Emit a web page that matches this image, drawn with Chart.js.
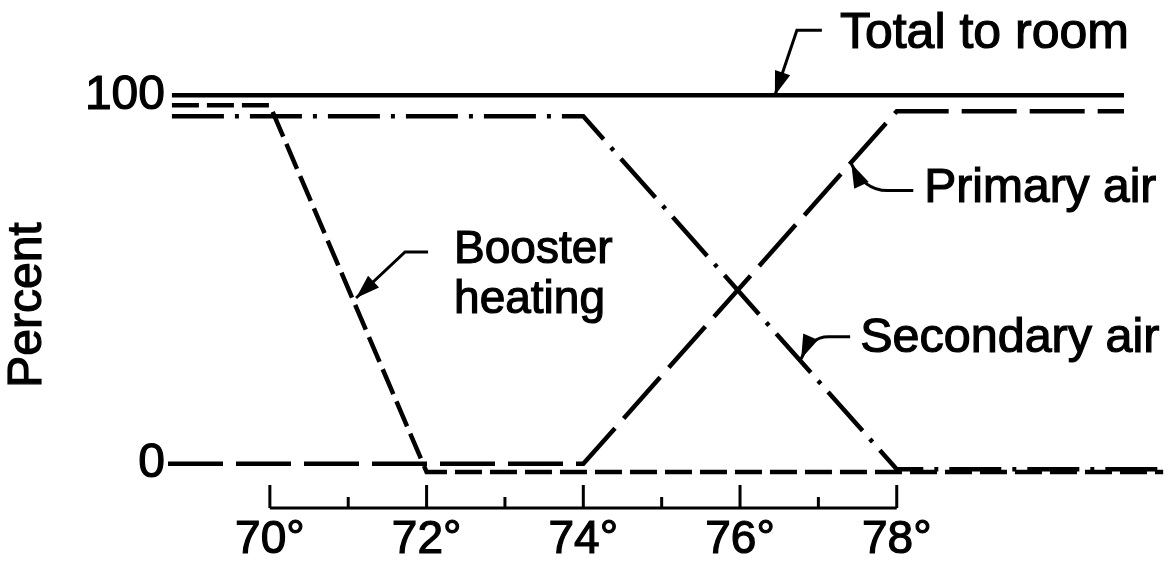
<!DOCTYPE html>
<html>
<head>
<meta charset="utf-8">
<script src="https://cdn.jsdelivr.net/npm/chart.js@4.4.1/dist/chart.umd.min.js"></script>
<style>
    body { margin: 0; background: #fff; }
    #contenedor { width: 1174px; height: 567px; }
</style>
</head>
<body>
<div id="contenedor"><canvas id="grafico"></canvas></div>
<script>
// temperatura de la sala (grados) y porcentaje de cada curva
var tempTotal = [68.75, 80.9];
var total = [100, 100];
var tempPrimario = [68.7, 74, 78, 80.9];
var primario = [0, 0, 95.7, 95.7];
var tempBooster = [68.75, 70, 72, 81.4];
var booster = [97.3, 97.3, -2.2, -2.2];
var tempSecundario = [68.75, 74, 78, 81.4];
var secundario = [94.3, 94.3, -1.5, -1.5];

var ticksGrados = [70, 72, 74, 76, 78];
var ticksMenores = [71, 73, 75, 77];
var ticksPorcentaje = [0, 100];

var fuente = '"Liberation Sans", Arial, sans-serif';

function puntos(xs, ys) {
    var lista = [];
    for (var i in xs) {
        lista.push({ x: xs[i], y: ys[i] });
    }
    return lista;
}

// flechas con texto: punta en unidades de datos, el resto en pixeles desde la punta
var anotaciones = [
    { texto: ['Total to room'], tam: 50, punta: [76.445, 100], codo: [22, -65], fin: [47, -65], curva: false, texto_dx: 65, texto_dy: [-61] },
    { texto: ['Primary air'], tam: 48, punta: [77.42, 81.5], codo: [36, 27], fin: [62, 27], curva: true, texto_dx: 73, texto_dy: [25] },
    { texto: ['Booster', 'heating'], tam: 46, punta: [71.1, 45], codo: [49, -46], fin: [72, -46], curva: false, texto_dx: 98, texto_dy: [-48, 2] },
    { texto: ['Secondary air'], tam: 48.5, punta: [76.78, 28.5], codo: [27, -22], fin: [49, -22], curva: true, texto_dx: 59, texto_dy: [-20] }
];

function textoGrueso(ctx, texto, x, y) {
    ctx.fillText(texto, x, y);
    ctx.strokeText(texto, x, y);
}

var ejeGrados = {
    id: 'ejeGrados',
    afterDatasetsDraw: function(chart) {
        var ctx = chart.ctx;
        var escalaX = chart.scales.x;
        var base = escalaX.top;
        ctx.save();
        ctx.strokeStyle = '#000';
        ctx.lineWidth = 3;
        ctx.beginPath();
        ctx.moveTo(escalaX.getPixelForValue(ticksGrados[0]), base);
        ctx.lineTo(escalaX.getPixelForValue(ticksGrados[ticksGrados.length - 1]), base);
        for (var i in ticksGrados) {
            var px = escalaX.getPixelForValue(ticksGrados[i]);
            ctx.moveTo(px, base);
            ctx.lineTo(px, base - 23);
        }
        for (var j in ticksMenores) {
            var pm = escalaX.getPixelForValue(ticksMenores[j]);
            ctx.moveTo(pm, base);
            ctx.lineTo(pm, base - 11);
        }
        ctx.stroke();

        // titulo del eje y
        ctx.fillStyle = '#000';
        ctx.lineWidth = 1.2;
        ctx.font = '48px ' + fuente;
        ctx.textAlign = 'center';
        ctx.textBaseline = 'middle';
        ctx.translate(28, (chart.chartArea.top + chart.chartArea.bottom) / 2 + 7);
        ctx.rotate(-Math.PI / 2);
        textoGrueso(ctx, 'Percent', 0, 0);
        ctx.restore();
    }
};

var flechas = {
    id: 'flechas',
    afterDatasetsDraw: function(chart) {
        var ctx = chart.ctx;
        var escalaX = chart.scales.x;
        var escalaY = chart.scales.y;
        ctx.save();
        ctx.strokeStyle = '#000';
        ctx.fillStyle = '#000';
        ctx.textAlign = 'left';
        ctx.textBaseline = 'middle';
        for (var i in anotaciones) {
            var a = anotaciones[i];
            var tx = escalaX.getPixelForValue(a.punta[0]);
            var ty = escalaY.getPixelForValue(a.punta[1]);
            var cx = tx + a.codo[0], cy = ty + a.codo[1];
            var fx = tx + a.fin[0], fy = ty + a.fin[1];
            var desdeX = cx, desdeY = cy;

            ctx.lineWidth = 3;
            ctx.beginPath();
            ctx.moveTo(fx, fy);
            ctx.lineTo(cx, cy);
            if (a.curva) {
                // curva suave hacia la punta
                var qx = tx + a.codo[0] * 0.35, qy = cy;
                ctx.quadraticCurveTo(qx, qy, tx, ty);
                desdeX = qx;
                desdeY = qy;
            } else {
                ctx.lineTo(tx, ty);
            }
            ctx.stroke();

            // punta de flecha
            var ang = Math.atan2(ty - desdeY, tx - desdeX);
            ctx.beginPath();
            ctx.moveTo(tx, ty);
            ctx.lineTo(tx - 24 * Math.cos(ang) + 8 * Math.sin(ang), ty - 24 * Math.sin(ang) - 8 * Math.cos(ang));
            ctx.lineTo(tx - 24 * Math.cos(ang) - 8 * Math.sin(ang), ty - 24 * Math.sin(ang) + 8 * Math.cos(ang));
            ctx.closePath();
            ctx.fill();

            ctx.lineWidth = 1.2;
            ctx.font = a.tam + 'px ' + fuente;
            for (var k in a.texto) {
                textoGrueso(ctx, a.texto[k], tx + a.texto_dx, ty + a.texto_dy[k]);
            }
        }
        ctx.restore();
    }
};

var chartdata = {
    datasets: [{
        label: 'Total to room',
        data: puntos(tempTotal, total),
        borderColor: '#000',
        borderWidth: 4.5
    }, {
        label: 'Primary air',
        data: puntos(tempPrimario, primario),
        borderColor: '#000',
        borderWidth: 4.5,
        borderDash: [55, 13]
    }, {
        label: 'Booster heating',
        data: puntos(tempBooster, booster),
        borderColor: '#000',
        borderWidth: 4.5,
        borderDash: [27, 8]
    }, {
        label: 'Secondary air',
        data: puntos(tempSecundario, secundario),
        borderColor: '#000',
        borderWidth: 4.5,
        borderDash: [52, 11, 4, 11]
    }]
};

var mostrar = document.getElementById('grafico');
var grafico = new Chart(mostrar, {
    type: 'scatter',
    data: chartdata,
    options: {
        responsive: true,
        maintainAspectRatio: false,
        animation: false,
        showLine: true,
        elements: {
            point: { radius: 0, hoverRadius: 0 },
            line: { tension: 0, borderCapStyle: 'butt', fill: false }
        },
        layout: {
            padding: { top: 88, right: 3, left: 0, bottom: 0 }
        },
        plugins: {
            legend: { display: false },
            tooltip: { enabled: false }
        },
        scales: {
            x: {
                type: 'linear',
                min: 68.7,
                max: 81.5,
                afterFit: function(scale) { scale.height = 59; },
                afterBuildTicks: function(scale) {
                    scale.ticks = ticksGrados.map(function(v) { return { value: v }; });
                },
                ticks: {
                    color: '#000',
                    padding: 5,
                    maxRotation: 0,
                    textStrokeColor: '#000',
                    textStrokeWidth: 1.2,
                    font: { family: fuente, size: 46 },
                    callback: function(value) { return value + '°'; }
                },
                grid: { display: false, drawTicks: false },
                border: { display: false }
            },
            y: {
                type: 'linear',
                min: -12,
                max: 102,
                afterFit: function(scale) { scale.width = 168; },
                afterBuildTicks: function(scale) {
                    scale.ticks = ticksPorcentaje.map(function(v) { return { value: v }; });
                },
                ticks: {
                    color: '#000',
                    padding: 3,
                    textStrokeColor: '#000',
                    textStrokeWidth: 1.2,
                    font: { family: fuente, size: 48 }
                },
                grid: { display: false, drawTicks: false },
                border: { display: false }
            }
        }
    },
    plugins: [ejeGrados, flechas]
});
</script>
</body>
</html>
